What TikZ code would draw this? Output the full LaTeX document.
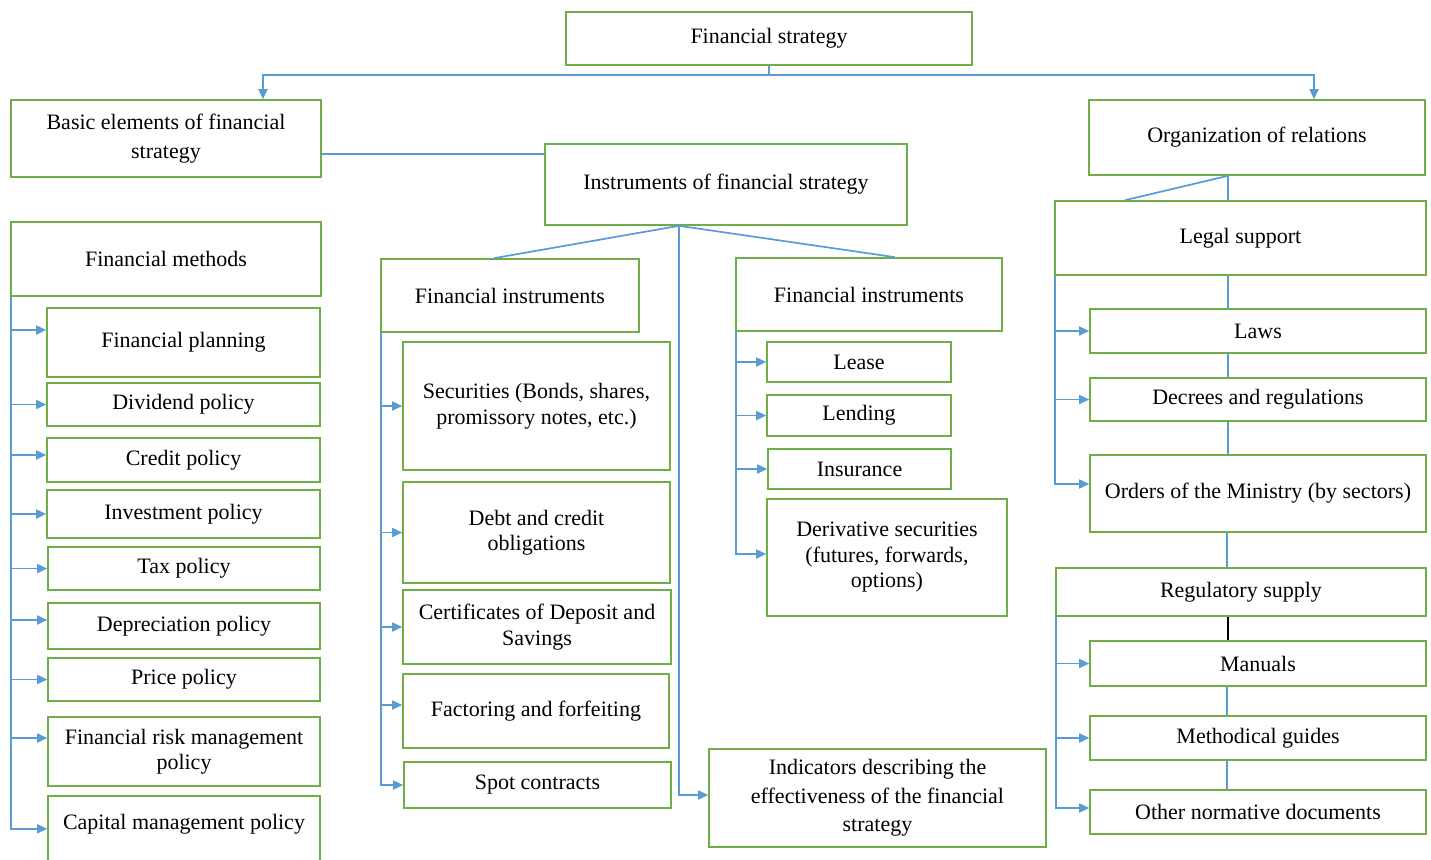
\documentclass[tikz,border=0pt]{standalone}
\usepackage{fontspec}
\setmainfont{Liberation Serif}
\usetikzlibrary{arrows.meta}
\definecolor{bgreen}{RGB}{112,173,71}
\definecolor{lblue}{RGB}{91,155,213}
\tikzset{
 box/.style={draw=bgreen, line width=1.6pt, inner sep=0pt, align=center, font=\fontsize{22}{25.5}\selectfont},
 wide/.style={font=\fontsize{22}{28.5}\selectfont},
 conn/.style={draw=lblue, line width=1.7pt},
 arr/.style={conn, -{Triangle[length=10pt,width=9pt]}}
}
\newcommand\bx[7][]{\node[box,#1, minimum width={(#5-#3)*1pt}, minimum height={(#6-#4)*1pt}] (#2) at ({(#3+#5)/2},{(#4+#6)/2}) {#7};}
\begin{document}
\begin{tikzpicture}[x=1pt,y=-1pt]
\useasboundingbox (0,0) rectangle (1431,859);
\fill[white] (0,0) rectangle (1431,859);
% top level
\bx{fs}{566}{12}{972}{65}{Financial strategy}
\bx[wide]{be}{11}{100}{321}{177}{Basic elements of financial\\strategy}
\bx{org}{1089}{100}{1425}{175}{Organization of relations}
\bx{ins}{545}{144}{907}{225}{Instruments of financial strategy}
\bx{fm}{11}{222}{321}{296}{Financial methods}
\bx{fia}{381}{259}{639}{332}{Financial instruments}
\bx{fib}{736}{258}{1002}{331}{Financial instruments}
\bx{ls}{1055}{201}{1426}{275}{Legal support}
% left column
\bx{fp}{47}{308}{320}{377}{Financial planning}
\bx{dp}{47}{383}{320}{426}{Dividend policy}
\bx{cp}{47}{438}{320}{482}{Credit policy}
\bx{ip}{47}{490}{320}{538}{Investment policy}
\bx{tp}{48}{547}{320}{590}{Tax policy}
\bx{dep}{48}{603}{320}{649}{Depreciation policy}
\bx{pp}{48}{658}{320}{701}{Price policy}
\bx{rp}{48}{717}{320}{786}{Financial risk management\\policy}
\node[box, anchor=north, minimum width=272pt, text height=34pt, text depth=42pt] (cmp) at (184,795) {Capital management policy};
% middle left
\bx{sec}{403}{342}{670}{470}{Securities (Bonds, shares,\\promissory notes, etc.)}
\bx{dco}{403}{482}{670}{583}{Debt and credit\\obligations}
\bx{cds}{403}{590}{671}{664}{Certificates of Deposit and\\Savings}
\bx{ff}{403}{674}{669}{748}{Factoring and forfeiting}
\bx{sc}{404}{762}{671}{808}{Spot contracts}
% middle right
\bx{lease}{767}{342}{951}{382}{Lease}
\bx{lend}{767}{395}{951}{436}{Lending}
\bx{insu}{768}{449}{951}{489}{Insurance}
\bx{der}{767}{499}{1007}{616}{Derivative securities\\(futures, forwards,\\options)}
\bx[wide]{ind}{709}{749}{1046}{847}{Indicators describing the\\effectiveness of the financial\\strategy}
% right column
\bx{laws}{1090}{309}{1426}{353}{Laws}
\bx{dr}{1090}{378}{1426}{421}{Decrees and regulations}
\bx{om}{1090}{455}{1426}{532}{Orders of the Ministry (by sectors)}
\bx{rs}{1056}{568}{1426}{616}{Regulatory supply}
\bx{man}{1090}{641}{1426}{686}{Manuals}
\bx{mg}{1090}{716}{1426}{760}{Methodical guides}
\bx{ond}{1090}{790}{1426}{834}{Other normative documents}
% top connectors
\coordinate (barY) at (0,75);
\coordinate (beX) at (263,0);
\coordinate (orgX) at (1314,0);
\draw[arr] (fs.south) |- (barY -| beX) -- (be.north -| beX);
\draw[arr] (fs.south) |- (barY -| orgX) -- (org.north -| orgX);
\coordinate (biY) at (0,154);
\draw[conn] (be.east |- biY) -- (ins.west |- biY);
% instruments
\coordinate (iX) at (679,0);
\coordinate (faX) at (494,0);
\coordinate (fbX) at (895,0);
\draw[conn] (ins.south -| iX) -- (fia.north -| faX);
\draw[conn] (ins.south -| iX) -- (fib.north -| fbX);
\draw[arr] (ins.south -| iX) |- ([yshift=3pt]ind.west);
% financial methods trunk
\coordinate (fmT) at ([xshift=1pt]fm.south west);
\draw[arr] (fmT) |- ([yshift=12.5pt]fp.west);
\foreach \c in {dp,ip,tp,pp} {\draw[arr] (fmT) |- (\c.west);}
\draw[arr] (fmT) |- ([yshift=5pt]cp.west);
\draw[arr] (fmT) |- ([yshift=6pt]dep.west);
\draw[arr] (fmT) |- ([yshift=13.5pt]rp.west);
\draw[arr] (fmT) |- ([yshift=5pt]cmp.west);
% financial instruments left trunk
\coordinate (faT) at ([xshift=1pt]fia.south west);
\foreach \c in {sec,dco,cds,sc} {\draw[arr] (faT) |- (\c.west);}
\draw[arr] (faT) |- ([yshift=6pt]ff.west);
% financial instruments right trunk
\coordinate (fbT) at ([xshift=1pt]fib.south west);
\foreach \c in {lease,lend,insu} {\draw[arr] (fbT) |- (\c.west);}
\draw[arr] (fbT) |- ([yshift=3.5pt]der.west);
% right side
\coordinate (rX) at (1228,0);
\coordinate (rX2) at (1227,0);
\coordinate (slX) at (1125,0);
\draw[conn] (org.south -| rX) -- (ls.north -| rX);
\draw[conn] (org.south -| rX) -- (ls.north -| slX);
\draw[conn] (ls.south -| rX) -- (laws.north -| rX);
\draw[conn] (laws.south -| rX) -- (dr.north -| rX);
\draw[conn] (dr.south -| rX) -- (om.north -| rX);
\draw[conn] (om.south -| rX2) -- (rs.north -| rX2);
\draw[line width=1.7pt, black] (rs.south -| rX) -- (man.north -| rX);
\draw[conn] (man.south -| rX2) -- (mg.north -| rX2);
\draw[conn] (mg.south -| rX2) -- (ond.north -| rX2);
\coordinate (lsT) at ([xshift=0.5pt]ls.south west);
\draw[arr] (lsT) |- (laws.west);
\draw[arr] (lsT) |- (dr.west);
\draw[arr] (lsT) |- ([yshift=9.5pt]om.west);
\coordinate (rsT) at ([xshift=1pt]rs.south west);
\draw[arr] (rsT) |- (man.west);
\draw[arr] (rsT) |- (mg.west);
\draw[arr] (rsT) |- ([yshift=4pt]ond.west);
\end{tikzpicture}
\end{document}
